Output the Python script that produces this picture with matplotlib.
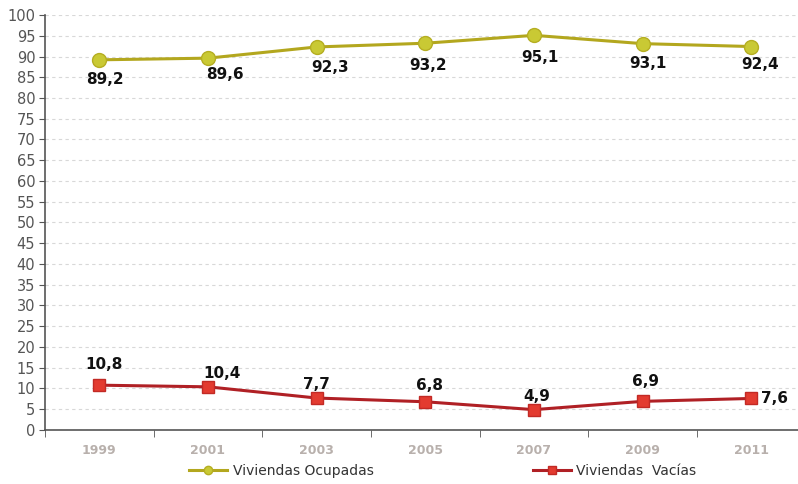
#!/usr/bin/env python3
# Viviendas ocupadas / vacías, 1999-2011

import matplotlib.pyplot as plt
from matplotlib.ticker import FixedLocator

years = ["1999", "2001", "2003", "2005", "2007", "2009", "2011"]
ocupadas = [89.2, 89.6, 92.3, 93.2, 95.1, 93.1, 92.4]
vacias = [10.8, 10.4, 7.7, 6.8, 4.9, 6.9, 7.6]

# label placement (offset points) as in the original
off_ocu = [(4, -14), (12, -12), (10, -15), (2, -16), (4, -16), (4, -14), (6, -13)]
off_vac = [(3, 15), (10, 9.5), (0, 9.5), (3, 12), (2, 9.5), (2, 14), (17, 0)]

fig = plt.figure(figsize=(7.98, 4.84), dpi=100)
ax = fig.add_axes([0.0564, 0.1116, 0.9436, 0.8574])

x = list(range(len(years)))
ax.plot(x, ocupadas, color="#B3A71E", lw=2.2, marker="o", ms=10,
        mfc="#C9C934", mec="#B5AE22", label="Viviendas Ocupadas", zorder=3)
ax.plot(x, vacias, color="#B02025", lw=2.2, marker="s", ms=9,
        mfc="#E33B30", mec="#C22A25", label="Viviendas  Vacías", zorder=3)

fmt = lambda v: f"{v:.1f}".replace(".", ",")
for vals, offs in [(ocupadas, off_ocu), (vacias, off_vac)]:
    for i, (v, o) in enumerate(zip(vals, offs)):
        ax.annotate(fmt(v), (i, v), xytext=o, textcoords="offset points",
                    ha="center", va="center", fontsize=11, fontweight="bold", color="#111111")

ax.set_xlim(-0.5, 6.43)
ax.set_ylim(0, 100)
ax.set_yticks(range(0, 101, 5))
ax.set_xticks(x)
ax.set_xticklabels(years, color="#B8B0AC", fontweight="bold", fontsize=9)
ax.xaxis.set_minor_locator(FixedLocator([i + 0.5 for i in range(-1, 7)]))
ax.tick_params(axis="x", which="major", length=0, pad=10)
ax.tick_params(axis="x", which="minor", length=5, color="#555555", direction="out")
ax.tick_params(axis="y", length=4, color="#555555", labelsize=10.5, labelcolor="#555555", pad=3)

ax.grid(axis="y", color="#D8D8D8", ls=(0, (3, 3)), lw=0.8)
ax.set_axisbelow(True)
for s in ["top", "right"]:
    ax.spines[s].set_visible(False)
ax.spines["left"].set_color("#555555")
ax.spines["bottom"].set_color("#555555")
ax.spines["left"].set_linewidth(1.2)
ax.spines["bottom"].set_linewidth(1.2)

fig.legend(*ax.get_legend_handles_labels(), loc="center", bbox_to_anchor=(0.555, 0.027),
           ncol=2, frameon=False, fontsize=10, columnspacing=11.5, handlelength=2.7,
           handletextpad=0.4, markerscale=0.6, labelcolor="#333333",
           borderpad=0, borderaxespad=0)

plt.savefig("out.png", dpi=100)
